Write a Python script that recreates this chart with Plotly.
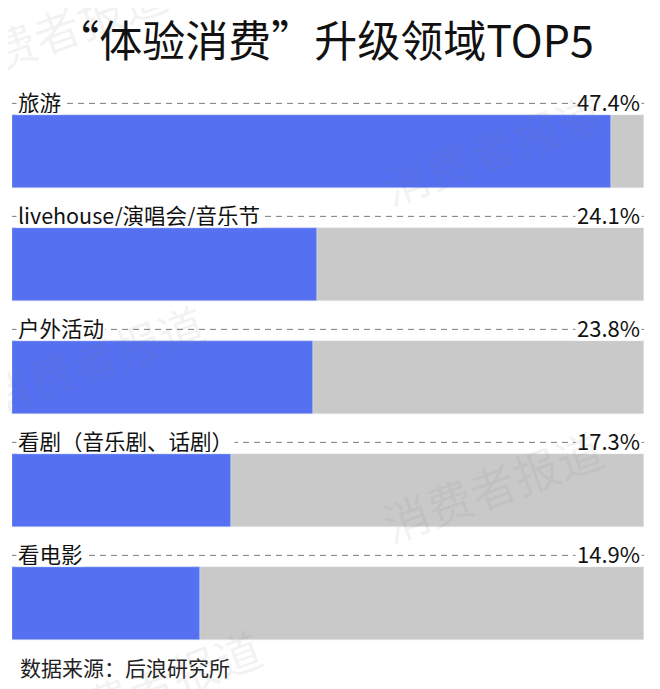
import plotly.graph_objects as go

categories = ["旅游", "livehouse/演唱会/音乐节", "户外活动", "看剧（音乐剧、话剧）", "看电影"]
values = [47.4, 24.1, 23.8, 17.3, 14.9]
value_labels = ["47.4%", "24.1%", "23.8%", "17.3%", "14.9%"]
scale_max = 50
title_text = "“体验消费”升级领域TOP5"
source_text = "数据来源：后浪研究所"
watermark = "消费者报道"

BLUE = "#5570F1"
GRAY = "#C9C9C9"
FONT = "Noto Sans CJK SC"

# page has an 8px body margin; figure is sized to fit the 660x689 window
W, H = 652, 681

n = len(categories)
idx = list(range(n))
label_off = 0.451

fig = go.Figure()
fig.add_trace(go.Bar(y=idx, x=[scale_max] * n, orientation="h", marker_color=GRAY,
                     width=0.646, hoverinfo="skip", showlegend=False))
fig.add_trace(go.Bar(y=idx, x=values, orientation="h", marker_color=BLUE,
                     width=0.646, hoverinfo="skip", showlegend=False))
for i in idx:
    fig.add_trace(go.Scatter(x=[0, scale_max], y=[i - label_off + 0.025] * 2, mode="lines",
                             line=dict(color="#7a7a7a", width=1, dash="6px,5px"),
                             hoverinfo="skip", showlegend=False))

annotations = []
for i, (c, v) in enumerate(zip(categories, value_labels)):
    annotations.append(dict(x=0, y=i - label_off, xref="x", yref="y", text=c, showarrow=False,
                            xanchor="left", yanchor="middle", xshift=4, height=24, valign="middle",
                            font=dict(family=FONT, size=21.5, color="#111"),
                            bgcolor="white", borderpad=1))
    annotations.append(dict(x=scale_max, y=i - label_off, xref="x", yref="y", text=v, showarrow=False,
                            xanchor="right", yanchor="middle", xshift=-2, height=24, valign="middle",
                            font=dict(family=FONT, size=22, color="#111"),
                            bgcolor="white", borderpad=1))

annotations.append(dict(x=0, y=-0.03, xref="paper", yref="paper", text=source_text, showarrow=False,
                        xanchor="left", yanchor="middle", xshift=6,
                        font=dict(family=FONT, size=21, color="#222")))

for (wx, wy) in [(0.07, 1.09), (0.76, 0.88), (0.13, 0.51), (0.76, 0.29), (0.22, -0.06)]:
    annotations.append(dict(x=wx, y=wy, xref="paper", yref="paper", text=watermark, showarrow=False,
                            textangle=-20, xanchor="center", yanchor="middle",
                            font=dict(family=FONT, size=46, color="rgba(120,120,120,0.09)")))

fig.update_layout(
    width=W, height=H,
    margin=dict(l=4, r=16, t=72, b=39),
    paper_bgcolor="white", plot_bgcolor="white",
    barmode="overlay", bargap=0,
    title=dict(text=title_text, x=(325 - 8) / W, xanchor="center", y=1 - 34 / H, yanchor="middle",
               font=dict(family=FONT, size=43, color="#111")),
    xaxis=dict(range=[0, scale_max], visible=False, fixedrange=True),
    yaxis=dict(range=[(650 - 151.5) / 113, (80 - 151.5) / 113], visible=False, fixedrange=True),
    annotations=annotations,
    showlegend=False,
)

fig.write_html("out.html")
